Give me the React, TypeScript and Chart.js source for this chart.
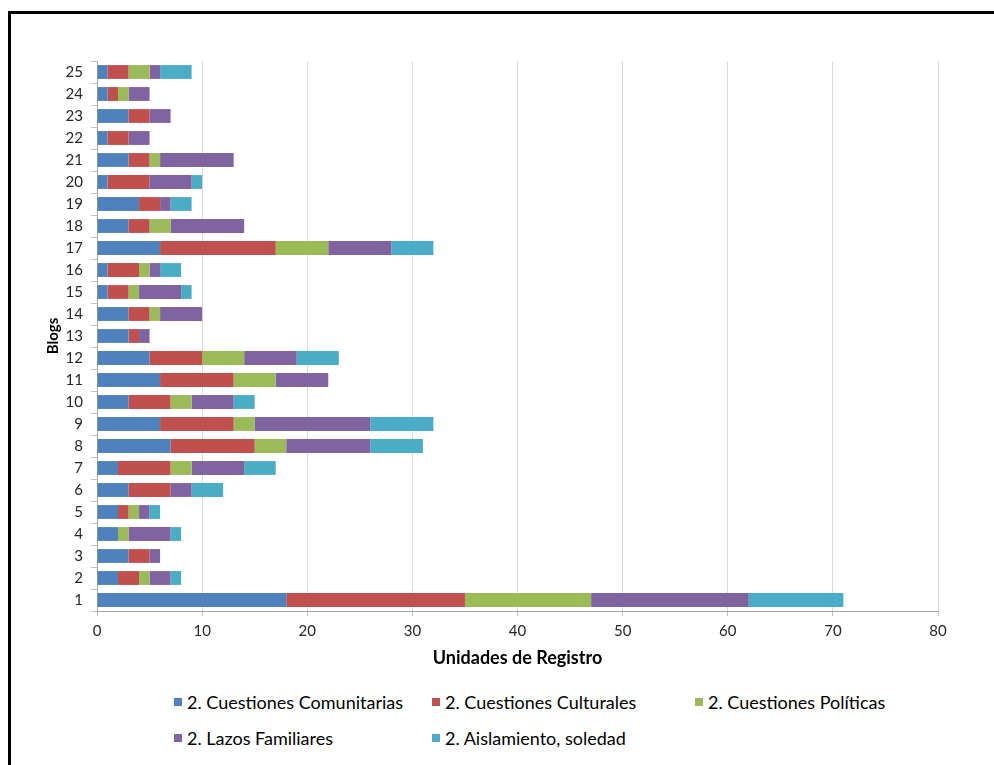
import React, { useEffect, useRef } from "react";
import { Chart, registerables } from "chart.js";

Chart.register(...registerables);

const blogs = ["1","2","3","4","5","6","7","8","9","10","11","12","13","14","15","16","17","18","19","20","21","22","23","24","25"];
const comunitarias = [18,2,3,2,2,3,2,7,6,3,6,5,3,3,1,1,6,3,4,1,3,1,3,1,1];
const culturales   = [17,2,2,0,1,4,5,8,7,4,7,5,1,2,2,3,11,2,2,4,2,2,2,1,2];
const politicas    = [12,1,0,1,1,0,2,3,2,2,4,4,0,1,1,1,5,2,0,0,1,0,0,1,2];
const familiares   = [15,2,1,4,1,2,5,8,11,4,5,5,1,4,4,1,6,7,1,4,7,2,2,2,1];
const aislamiento  = [9,1,0,1,1,3,3,5,6,2,0,4,0,0,1,2,4,0,2,1,0,0,0,0,3];

const seriesNames = [
  "2. Cuestiones Comunitarias",
  "2. Cuestiones Culturales",
  "2. Cuestiones Políticas",
  "2. Lazos Familiares",
  "2. Aislamiento, soledad",
];
const seriesColors = ["#4F81BD", "#C0504D", "#9BBB59", "#8064A2", "#4BACC6"];
const xTicks = [0, 10, 20, 30, 40, 50, 60, 70, 80];

const FONT = "Lato, 'Open Sans', sans-serif";

export default function App() {
  const ref = useRef<HTMLCanvasElement | null>(null);
  useEffect(() => {
    if (!ref.current) return;
    const values = [comunitarias, culturales, politicas, familiares, aislamiento];
    const chart = new Chart(ref.current, {
      type: "bar",
      data: {
        labels: blogs,
        datasets: values.map((v, i) => ({
          label: seriesNames[i],
          data: v,
          backgroundColor: seriesColors[i],
          borderWidth: 0,
          barPercentage: 0.63,
          categoryPercentage: 1,
        })),
      },
      options: {
        indexAxis: "y",
        animation: false,
        responsive: false,
        maintainAspectRatio: false,
        layout: { padding: { left: 40, top: 61, right: 56, bottom: 8 } },
        plugins: { legend: { display: false }, tooltip: { enabled: false } },
        scales: {
          x: {
            stacked: true,
            min: xTicks[0],
            max: xTicks[xTicks.length - 1],
            afterFit: (s: any) => { s.height = 61; },
            afterBuildTicks: (s: any) => { s.ticks = xTicks.map((v) => ({ value: v })); },
            grid: { color: "#d9d9d9", tickLength: 5, tickColor: "#bfbfbf" },
            border: { color: "#a6a6a6" },
            ticks: { font: { family: FONT, size: 15 }, color: "#262626", padding: 6 },
            title: {
              display: true,
              text: "Unidades de Registro",
              font: { family: FONT, size: 18, weight: "bold" },
              color: "#000",
              padding: { top: 4, bottom: 3 },
            },
          },
          y: {
            stacked: true,
            reverse: true,
            afterFit: (s: any) => { s.width = 57; },
            grid: { offset: true, drawOnChartArea: false, drawTicks: true, tickLength: 6, color: "#bfbfbf" },
            border: { color: "#a6a6a6" },
            ticks: { font: { family: FONT, size: 15 }, color: "#262626", padding: 8, autoSkip: false },
            title: {
              display: true,
              text: "Blogs",
              font: { family: FONT, size: 15, weight: "bold" },
              color: "#000",
              padding: { top: 4, bottom: 4 },
            },
          },
        },
      },
    });
    return () => chart.destroy();
  }, []);

  const legendPos = [
    { x: 174, y: 702 },
    { x: 432, y: 702 },
    { x: 695, y: 702 },
    { x: 174, y: 738 },
    { x: 432, y: 738 },
  ];

  return (
    <div style={{ position: "fixed", left: 0, top: 0, width: 994, height: 765, overflow: "hidden", background: "#fff" }}>
      <div style={{ position: "absolute", left: 8, top: 11, width: 990, height: 760, borderLeft: "3px solid #000", borderTop: "3px solid #000" }} />
      <canvas ref={ref} width={994} height={680} style={{ position: "absolute", left: 0, top: 0, width: 994, height: 680 }} />
      {seriesNames.map((n, i) => (
        <div key={n} style={{ position: "absolute", left: legendPos[i].x, top: legendPos[i].y - 12, height: 24, display: "flex", alignItems: "center", fontFamily: FONT, fontSize: 18, color: "#000", whiteSpace: "nowrap" }}>
          <span style={{ display: "inline-block", width: 8, height: 8, background: seriesColors[i], marginRight: 5 }} />
          {n}
        </div>
      ))}
    </div>
  );
}
